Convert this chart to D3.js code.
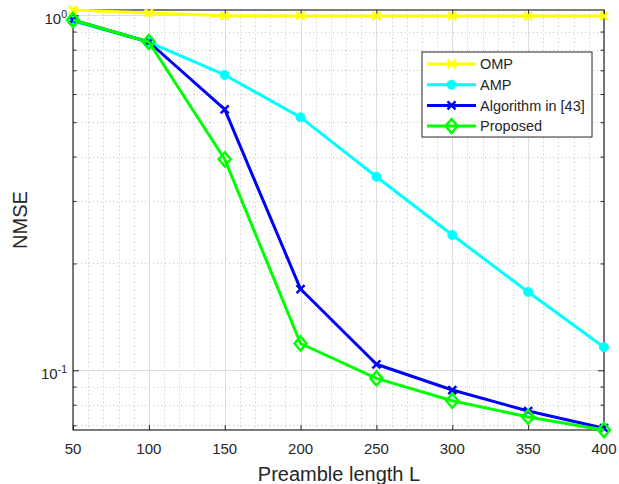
<!DOCTYPE html>
<html>
<head>
<meta charset="utf-8">
<script src="https://cdn.jsdelivr.net/npm/d3@7"></script>
<style>
  body { margin: 0; background: #fff; }
  text { font-family: "Liberation Sans", Arial, sans-serif; fill: #262626; }
</style>
</head>
<body>
<div id="chart"></div>
<script>

// preamble lengths on the x axis
var lengths = [50, 100, 150, 200, 250, 300, 350, 400];

// NMSE per method
var ompValues      = [1.035, 1.015, 0.997, 0.996, 0.996, 0.995, 0.995, 0.995];
var ampValues      = [0.964, 0.841, 0.679, 0.516, 0.351, 0.2405, 0.1662, 0.1161];
var algo43Values   = [0.970, 0.841, 0.543, 0.1694, 0.104, 0.0880, 0.0768, 0.0687];
var proposedValues = [0.970, 0.841, 0.393, 0.119, 0.0949, 0.0821, 0.0739, 0.0679];

var seriesNames = ["OMP", "AMP", "Algorithm in [43]", "Proposed"];

var xTicks = [50, 100, 150, 200, 250, 300, 350, 400];
var yTicks = [0.1, 1];
var yMinorTicks = [0.07, 0.08, 0.09, 0.2, 0.3, 0.4, 0.5, 0.6, 0.7, 0.8, 0.9];

var series = [
  { name: seriesNames[0], values: ompValues,      color: "#ffff00", marker: "x" },
  { name: seriesNames[1], values: ampValues,      color: "#00ffff", marker: "circle" },
  { name: seriesNames[2], values: algo43Values,   color: "#0000ff", marker: "x" },
  { name: seriesNames[3], values: proposedValues, color: "#00ff00", marker: "diamond" }
];

var width = 619, height = 484;
var plotLeft = 73, plotRight = 604, plotTop = 10, plotBottom = 430;

var x = d3.scaleLinear().domain([50, 400]).range([plotLeft, plotRight]);
var y = d3.scaleLog().domain([0.0679, 1.035]).range([plotBottom, plotTop]);

var svg = d3.select("#chart").append("svg")
    .attr("width", width)
    .attr("height", height);

// minor grid (dotted)
var xMinor = d3.range(60, 400, 10).filter(function(d) { return d % 50 !== 0; });
var grid = svg.append("g");
grid.selectAll(".xminor").data(xMinor).enter().append("line")
    .attr("x1", function(d) { return Math.round(x(d)) + 0.5; })
    .attr("x2", function(d) { return Math.round(x(d)) + 0.5; })
    .attr("y1", plotTop).attr("y2", plotBottom)
    .attr("stroke", "#c4c4c4").attr("stroke-width", 1).attr("stroke-dasharray", "1,3");
grid.selectAll(".yminor").data(yMinorTicks).enter().append("line")
    .attr("x1", plotLeft).attr("x2", plotRight)
    .attr("y1", function(d) { return Math.round(y(d)) + 0.5; })
    .attr("y2", function(d) { return Math.round(y(d)) + 0.5; })
    .attr("stroke", "#c4c4c4").attr("stroke-width", 1).attr("stroke-dasharray", "1,3");

// major grid (solid light)
grid.selectAll(".xmajor").data(xTicks).enter().append("line")
    .attr("x1", function(d) { return Math.round(x(d)) + 0.5; })
    .attr("x2", function(d) { return Math.round(x(d)) + 0.5; })
    .attr("y1", plotTop).attr("y2", plotBottom)
    .attr("stroke", "#dedede").attr("stroke-width", 1);
grid.selectAll(".ymajor").data(yTicks).enter().append("line")
    .attr("x1", plotLeft).attr("x2", plotRight)
    .attr("y1", function(d) { return Math.round(y(d)) + 0.5; })
    .attr("y2", function(d) { return Math.round(y(d)) + 0.5; })
    .attr("stroke", "#dedede").attr("stroke-width", 1);

// axes box with inward ticks
var axisColor = "#262626";
function cleanAxis(g) {
  g.select(".domain").remove();
  g.selectAll("line").attr("stroke", axisColor);
}
svg.append("g")
    .attr("transform", "translate(0," + plotBottom + ")")
    .call(d3.axisBottom(x).tickValues(xTicks).tickSize(-5).tickFormat(""))
    .call(cleanAxis);
svg.append("g")
    .attr("transform", "translate(0," + plotTop + ")")
    .call(d3.axisTop(x).tickValues(xTicks).tickSize(-5).tickFormat(""))
    .call(cleanAxis);
svg.append("g")
    .attr("transform", "translate(" + plotLeft + ",0)")
    .call(d3.axisLeft(y).tickValues(yTicks).tickSize(-6).tickFormat(""))
    .call(cleanAxis);
svg.append("g")
    .attr("transform", "translate(" + plotLeft + ",0)")
    .call(d3.axisLeft(y).tickValues(yMinorTicks).tickSize(-3.5).tickFormat(""))
    .call(cleanAxis);
svg.append("g")
    .attr("transform", "translate(" + plotRight + ",0)")
    .call(d3.axisRight(y).tickValues(yTicks).tickSize(-6).tickFormat(""))
    .call(cleanAxis);
svg.append("g")
    .attr("transform", "translate(" + plotRight + ",0)")
    .call(d3.axisRight(y).tickValues(yMinorTicks).tickSize(-3.5).tickFormat(""))
    .call(cleanAxis);

svg.append("rect")
    .attr("x", plotLeft).attr("y", plotTop)
    .attr("width", plotRight - plotLeft).attr("height", plotBottom - plotTop)
    .attr("fill", "none").attr("stroke", axisColor).attr("stroke-width", 1.2);

// x tick labels
svg.append("g").selectAll("text").data(xTicks).enter().append("text")
    .attr("x", x)
    .attr("y", 454)
    .attr("text-anchor", "middle")
    .attr("font-size", 15)
    .text(function(d) { return d; });

// y tick labels as 10^n
var yLab = svg.append("g").selectAll("text").data(yTicks).enter().append("text")
    .attr("x", 67)
    .attr("y", function(d) { return y(d) + 8.7; })
    .attr("text-anchor", "end")
    .attr("font-size", 15);
yLab.append("tspan").text("10");
yLab.append("tspan")
    .attr("dy", -6.3)
    .attr("font-size", 10.5)
    .text(function(d) { return Math.round(Math.log10(d)); });

// axis titles
svg.append("text")
    .attr("x", 339)
    .attr("y", 481)
    .attr("text-anchor", "middle")
    .attr("font-size", 20)
    .text("Preamble length L");

svg.append("text")
    .attr("transform", "translate(27,220) rotate(-90)")
    .attr("text-anchor", "middle")
    .attr("font-size", 20)
    .text("NMSE");

// marker drawing
function drawMarker(g, type, color) {
  if (type === "x") {
    g.append("path").attr("d", "M-4,-4L4,4M-4,4L4,-4")
        .attr("stroke", color).attr("stroke-width", 2.5).attr("fill", "none");
  } else if (type === "circle") {
    g.append("circle").attr("r", 4.5).attr("fill", color).attr("stroke", color);
  } else if (type === "diamond") {
    g.append("path").attr("d", "M0,-7L6,0L0,7L-6,0Z")
        .attr("stroke", color).attr("stroke-width", 2.5).attr("fill", "none");
  }
}

var line = d3.line()
    .x(function(d, i) { return x(lengths[i]); })
    .y(function(d) { return y(d); });

// lines + markers
series.forEach(function(s) {
  svg.append("path")
      .datum(s.values)
      .attr("d", line)
      .attr("fill", "none")
      .attr("stroke", s.color)
      .attr("stroke-width", 3)
      .attr("stroke-linejoin", "round");

  svg.append("g").selectAll("g")
      .data(s.values)
      .enter().append("g")
      .attr("transform", function(d, i) { return "translate(" + x(lengths[i]) + "," + y(d) + ")"; })
      .each(function() { drawMarker(d3.select(this), s.marker, s.color); });
});

// legend
var legendX = 422, legendY = 52, legendW = 170, legendH = 85;
var legend = svg.append("g");
legend.append("rect")
    .attr("x", legendX).attr("y", legendY)
    .attr("width", legendW).attr("height", legendH)
    .attr("fill", "#fff").attr("stroke", axisColor).attr("stroke-width", 1);

var item = legend.selectAll(".item")
    .data(series)
    .enter().append("g")
    .attr("transform", function(d, i) { return "translate(0," + (64 + i * 20.7) + ")"; });

item.append("line")
    .attr("x1", 427).attr("x2", 476)
    .attr("stroke", function(d) { return d.color; })
    .attr("stroke-width", 3);
item.each(function(d) {
  var m = d3.select(this).append("g").attr("transform", "translate(451.5,0)");
  drawMarker(m, d.marker, d.color);
});
item.append("text")
    .attr("x", 480)
    .attr("dy", "0.36em")
    .attr("font-size", 14.5)
    .attr("fill", "#000")
    .text(function(d) { return d.name; });

</script>
</body>
</html>
